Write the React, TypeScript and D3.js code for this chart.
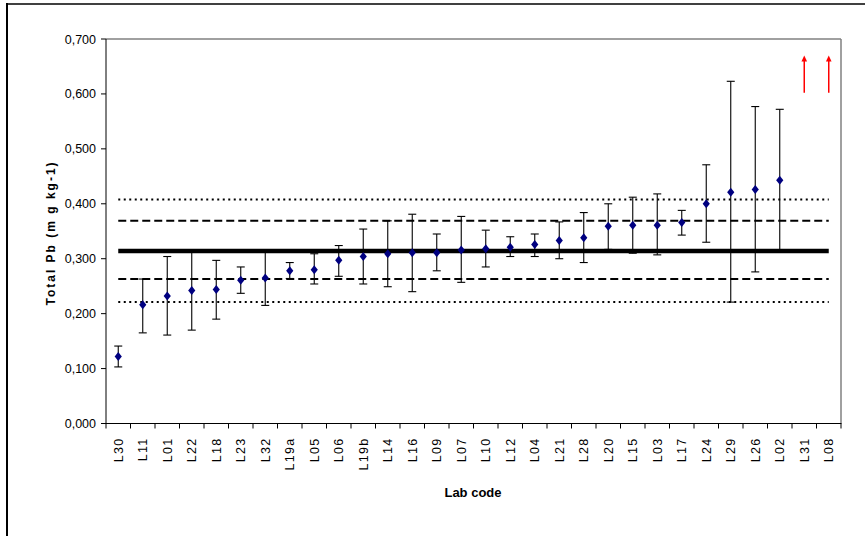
import React from "react";
import * as d3 from "d3";

const labs = ["L30","L11","L01","L22","L18","L23","L32","L19a","L05","L06","L19b","L14","L16","L09","L07","L10","L12","L04","L21","L28","L20","L15","L03","L17","L24","L29","L26","L02","L31","L08"];
const means = [0.122,0.216,0.232,0.242,0.244,0.261,0.265,0.278,0.280,0.297,0.304,0.309,0.311,0.311,0.316,0.318,0.321,0.326,0.333,0.338,0.359,0.361,0.361,0.366,0.400,0.421,0.426,0.443,null,null];
const lows  = [0.103,0.165,0.161,0.170,0.190,0.237,0.215,0.264,0.254,0.268,0.254,0.249,0.240,0.278,0.257,0.285,0.304,0.304,0.300,0.293,0.317,0.310,0.307,0.343,0.330,0.221,0.276,0.316,null,null];
const highs = [0.141,0.263,0.304,0.314,0.297,0.285,0.314,0.293,0.309,0.324,0.354,0.369,0.381,0.345,0.377,0.352,0.340,0.345,0.367,0.384,0.400,0.412,0.418,0.388,0.471,0.623,0.577,0.572,null,null];
const arrowLabs = ["L31","L08"];
const arrowFrom = [0.602,0.602];
const arrowTo = [0.670,0.670];
const assigned = 0.314;
const dashedLines = [0.263,0.369];
const dottedLines = [0.221,0.408];
const yTicks = [0,0.1,0.2,0.3,0.4,0.5,0.6,0.7];

const W = 865, H = 536;
const L = 106, R = 841, T = 39, B = 423.5;

export default function App() {
  const x = d3.scaleBand<string>().domain(labs).range([L, R]).padding(0);
  const y = d3.scaleLinear().domain([0, 0.7]).range([B, T]);
  const bw = x.bandwidth();
  const cx = (l: string) => (x(l) as number) + bw / 2;
  const x0 = cx(labs[0]), x1 = cx(labs[labs.length - 1]);
  const fmt = (v: number) => v.toFixed(3).replace(".", ",");
  const diamond = "M0,-4.5L3.6,0L0,4.5L-3.6,0Z";
  return (
    <svg width={W} height={H} style={{ position: "absolute", left: 0, top: 0, background: "#fff" }} fontFamily="Arial, 'Liberation Sans', sans-serif">
      {/* outer frame */}
      <line x1={7} y1={3} x2={7} y2={H} stroke="#000" strokeWidth={2} />
      <line x1={6} y1={4} x2={W} y2={4} stroke="#000" strokeWidth={1.6} />
      {/* plot border */}
      <line x1={L} y1={T} x2={R} y2={T} stroke="#808080" strokeWidth={1.5} />
      <line x1={R} y1={T} x2={R} y2={B} stroke="#808080" strokeWidth={1.5} />
      {/* reference lines */}
      {dottedLines.map((v, i) => (
        <line key={"dt" + i} x1={x0} x2={x1} y1={y(v)} y2={y(v)} stroke="#000" strokeWidth={2} strokeDasharray="2,3.5" />
      ))}
      {dashedLines.map((v, i) => (
        <line key={"ds" + i} x1={x0} x2={x1} y1={y(v)} y2={y(v)} stroke="#000" strokeWidth={2} strokeDasharray="8,4" />
      ))}
      {/* error bars */}
      {labs.map((l, i) => {
        if (means[i] == null) return null;
        const c = cx(l);
        return (
          <g key={"e" + l} stroke="#000" strokeWidth={1.1}>
            <line x1={c} x2={c} y1={y(lows[i] as number)} y2={y(highs[i] as number)} />
            <line x1={c - 4} x2={c + 4} y1={y(lows[i] as number)} y2={y(lows[i] as number)} />
            <line x1={c - 4} x2={c + 4} y1={y(highs[i] as number)} y2={y(highs[i] as number)} />
          </g>
        );
      })}
      <line x1={x0} x2={x1} y1={y(assigned)} y2={y(assigned)} stroke="#000" strokeWidth={4.3} />
      {/* points */}
      {labs.map((l, i) =>
        means[i] == null ? null : (
          <path key={"p" + l} d={diamond} transform={`translate(${cx(l)},${y(means[i] as number)})`} fill="#000080" />
        )
      )}
      {/* arrows */}
      {arrowLabs.map((l, i) => {
        const c = cx(l);
        const yt = y(arrowTo[i]);
        return (
          <g key={"a" + l}>
            <line x1={c} x2={c} y1={y(arrowFrom[i])} y2={yt + 5} stroke="#ff0000" strokeWidth={1.5} />
            <path d={`M${c},${yt}L${c - 2.8},${yt + 6}L${c + 2.8},${yt + 6}Z`} fill="#ff0000" />
          </g>
        );
      })}
      {/* axes */}
      <line x1={L} y1={T} x2={L} y2={B} stroke="#000" strokeWidth={1} />
      <line x1={L} y1={B} x2={R + 0.5} y2={B} stroke="#000" strokeWidth={1} />
      {yTicks.map((t) => (
        <g key={"yt" + t}>
          <line x1={L - 5} x2={L} y1={y(t)} y2={y(t)} stroke="#000" />
          <text x={96} y={y(t) + 4.5} textAnchor="end" fontSize={12.5} fill="#000">{fmt(t)}</text>
        </g>
      ))}
      {labs.map((l) => (
        <line key={"xt" + l} x1={x(l) as number} x2={x(l) as number} y1={B} y2={B + 5} stroke="#000" />
      ))}
      <line x1={R} x2={R} y1={B} y2={B + 5} stroke="#000" />
      {labs.map((l) => (
        <text key={"xl" + l} transform={`translate(${cx(l) + 4.5},437.5) rotate(-90)`} textAnchor="end" fontSize={12.5} letterSpacing={1.3} fill="#000">{l}</text>
      ))}
      <text x={473} y={497} textAnchor="middle" fontSize={13} fontWeight="bold" fill="#000">Lab code</text>
      <text transform={`translate(55,233) rotate(-90)`} textAnchor="middle" fontSize={12} fontWeight="bold" letterSpacing={2} fill="#000">Total Pb (m g kg-1)</text>
    </svg>
  );
}
